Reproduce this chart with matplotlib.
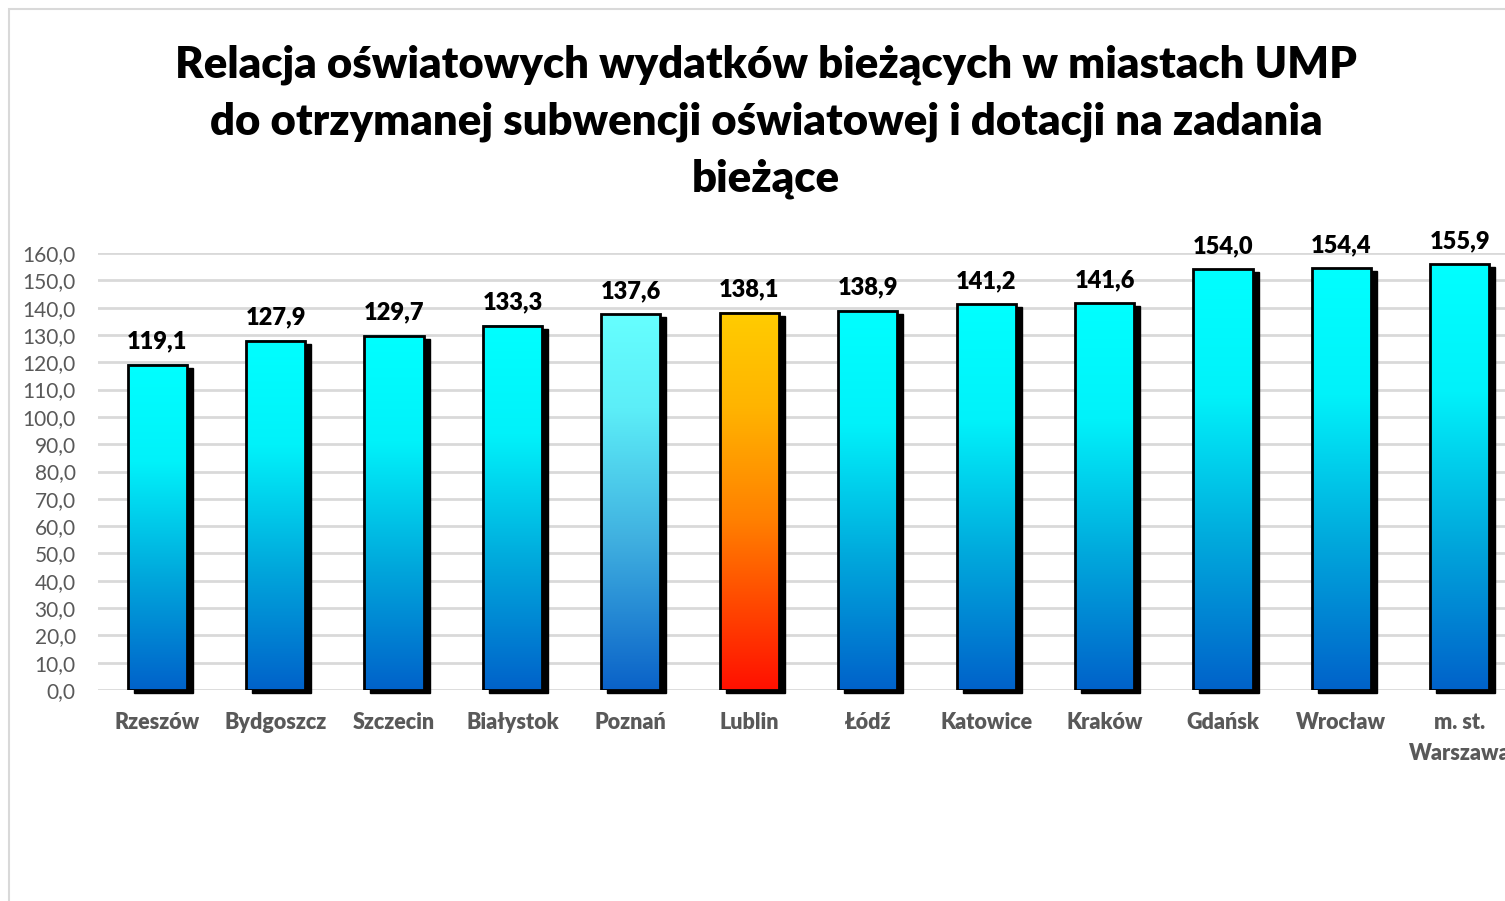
import numpy as np
import matplotlib.pyplot as plt
import matplotlib.transforms as mtransforms
from matplotlib.patches import Rectangle
from matplotlib.colors import LinearSegmentedColormap

### DATA ###
cities = ['Rzeszów', 'Bydgoszcz', 'Szczecin', 'Białystok', 'Poznań', 'Lublin',
          'Łódź', 'Katowice', 'Kraków', 'Gdańsk', 'Wrocław', 'm. st.\nWarszawa']
values = [119.1, 127.9, 129.7, 133.3, 137.6, 138.1, 138.9, 141.2, 141.6, 154.0, 154.4, 155.9]
yticks = np.arange(0, 161, 10)

title = ('Relacja oświatowych wydatków bieżących w miastach UMP\n'
         'do otrzymanej subwencji oświatowej i dotacji na zadania\n'
         'bieżące')

### COLOURS ###
# gradients go from bottom (0) to top (1)
cmap_cyan = LinearSegmentedColormap.from_list(
    'cyan', [(0, '#0062CA'), (0.35, '#00A8DC'), (0.7, '#00F2FA'), (1, '#00FFFF')])
cmap_pozn = LinearSegmentedColormap.from_list(
    'pozn', [(0, '#0A62C8'), (0.4, '#40B0E0'), (0.75, '#5CEEF8'), (1, '#66FFFF')])
cmap_lub = LinearSegmentedColormap.from_list(
    'lub', [(0, '#FF1000'), (0.45, '#FF8000'), (0.75, '#FFB400'), (1, '#FFCC00')])
bar_cmaps = [cmap_cyan] * len(values)
bar_cmaps[cities.index('Poznań')] = cmap_pozn
bar_cmaps[cities.index('Lublin')] = cmap_lub

grey = '#595959'
grid_col = '#D9D9D9'

plt.rcParams['font.family'] = ['Lato', 'DejaVu Sans']

### MAIN ###
fig = plt.figure(figsize=(15.05, 9.01), dpi=100)

# light frame around the chart
fig.patches.append(Rectangle((9 / 1505, -0.05), 1.1, (901 - 9) / 901 + 0.05,
                             transform=fig.transFigure, fill=False,
                             edgecolor=grid_col, linewidth=1.5))

fig.text(766 / 1505, 1 - 122 / 901, title, ha='center', va='center',
         fontsize=31.4, fontweight='heavy', linespacing=1.5)

ax = fig.add_axes([98 / 1505, (901 - 690) / 901, 1421 / 1505, 437 / 901])

for s in ax.spines.values():
    s.set_visible(False)
ax.set_yticks(yticks)
ax.set_yticklabels([f'{t:.1f}'.replace('.', ',') for t in yticks],
                   fontsize=15, color=grey)
ax.yaxis.grid(True, color=grid_col, linewidth=2)
ax.set_axisbelow(True)
ax.tick_params(axis='y', length=0, pad=16)
ax.tick_params(axis='x', length=0, pad=16)
ax.set_xticks(range(len(cities)))
ax.set_xticklabels(cities, fontsize=15.5, fontweight='heavy', color=grey,
                   linespacing=1.6, va='top')

w = 0.5
shadow_tr = mtransforms.offset_copy(ax.transData, fig=fig, x=6, y=-3, units='dots')
grad = np.linspace(0, 1, 256).reshape(-1, 1)
for i, (v, cm) in enumerate(zip(values, bar_cmaps)):
    # drop shadow
    ax.add_patch(Rectangle((i - w / 2, 0), w, v, transform=shadow_tr,
                           facecolor='black', edgecolor='black', lw=1,
                           zorder=2, clip_on=False))
    # gradient fill
    ax.imshow(grad, cmap=cm, origin='lower', aspect='auto',
              extent=[i - w / 2, i + w / 2, 0, v], zorder=3)
    ax.add_patch(Rectangle((i - w / 2, 0), w, v, facecolor='none',
                           edgecolor='black', lw=2, zorder=4))
    ax.text(i, v + 4.5, f'{v:.1f}'.replace('.', ','), ha='center', va='bottom',
            fontsize=17, fontweight='heavy', color='black')

ax.set_xlim(-0.5, len(values) - 0.5)
ax.set_ylim(0, 160)

fig.savefig('out.png', dpi=100)
